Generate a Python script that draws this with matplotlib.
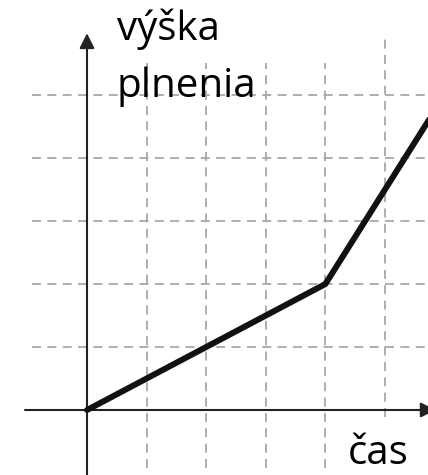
import matplotlib
matplotlib.use("Agg")
import matplotlib.pyplot as plt

# Data
time_pts = [0, 4, 6]
height_pts = [0, 2, 5]
grid_x = [1, 2, 3, 4, 5]
grid_y = [1, 2, 3, 4, 5]
ylabel_lines = ["výška", "plnenia"]
xlabel = "čas"

fig = plt.figure(figsize=(4.28, 4.75), dpi=100)
ax = fig.add_axes([0, 0, 1, 1])
ux, uy = 59.6, 63.0
ox, oy = 87, 410
ax.set_xlim(-ox / ux, (428 - ox) / ux)
ax.set_ylim(-(475 - oy) / uy, oy / uy)
ax.axis("off")

gcol = "#a8a8a8"
dash = (0, (5, 3.5))
for gy in grid_y:
    ax.plot([-0.92, 6], [gy, gy], color=gcol, lw=1.3, linestyle=dash, zorder=1)
for gx in grid_x:
    if gx < 5:
        y0, y1 = -0.92, 5.5
    else:
        y0, y1 = -0.11, 5.9
    ax.plot([gx, gx], [y0, y1], color=gcol, lw=1.3, linestyle=dash, zorder=1)

# axes with arrows
ax.annotate("", xy=(5.85, 0), xytext=(-1.04, 0), annotation_clip=False,
            arrowprops=dict(arrowstyle="-|>,head_length=0.9,head_width=0.45",
                            color="#222222", lw=1.5, shrinkA=0, shrinkB=0), zorder=2)
ax.annotate("", xy=(0, 5.98), xytext=(0, -1.05), annotation_clip=False,
            arrowprops=dict(arrowstyle="-|>,head_length=0.9,head_width=0.45",
                            color="#222222", lw=1.5, shrinkA=0, shrinkB=0), zorder=2)

ax.plot(time_pts, height_pts, color="#111111", lw=4.3, solid_capstyle="round",
        solid_joinstyle="round", zorder=3)

font = "Open Sans"
fs = 29
ax.text(0.5, (410 - 40) / uy, ylabel_lines[0], fontsize=fs, family=font, ha="left", va="baseline")
ax.text(0.5, (410 - 97) / uy, ylabel_lines[1], fontsize=fs, family=font, ha="left", va="baseline")
ax.text((348 - ox) / ux, (410 - 464) / uy, xlabel, fontsize=fs, family=font, ha="left", va="baseline")

fig.savefig("out.png", dpi=100)
